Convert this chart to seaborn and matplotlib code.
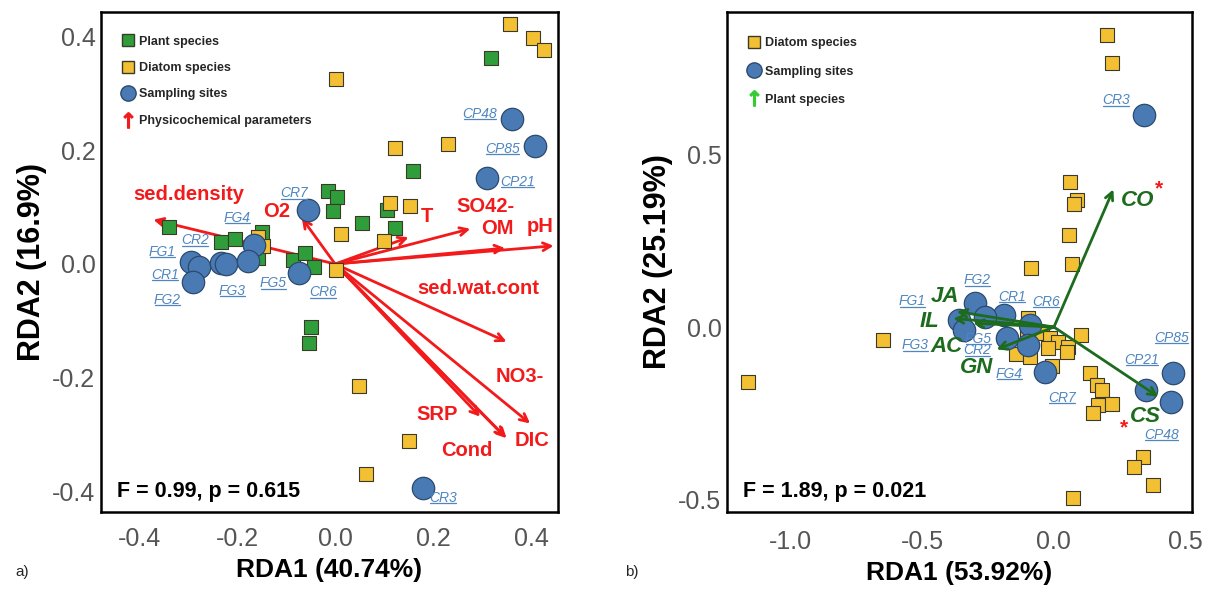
import matplotlib
matplotlib.use("Agg")
import matplotlib.pyplot as plt
import seaborn as sns
import pandas as pd
from matplotlib.lines import Line2D

# ---------------- Panel a data ----------------
a_site_names = ["CP48", "CP85", "CP21", "CR7", "CR3", "FG1", "CR1", "FG2", "CR2", "FG3", "FG4", "FG5", "CR6"]
a_site_x = [0.361, 0.409, 0.311, -0.055, 0.179, -0.294, -0.278, -0.290, -0.233, -0.222, -0.165, -0.177, -0.074]
a_site_y = [0.256, 0.208, 0.152, 0.095, -0.394, 0.004, -0.005, -0.031, 0.001, 0.000, 0.034, 0.005, -0.016]

a_diatom_x = [0.356, 0.403, 0.427, 0.001, 0.122, 0.231, 0.113, 0.153, 0.012, 0.099, -0.157, -0.147, 0.002, 0.048, 0.150, 0.064]
a_diatom_y = [0.423, 0.398, 0.377, 0.326, 0.205, 0.211, 0.108, 0.102, 0.052, 0.041, 0.048, 0.031, -0.011, -0.215, -0.312, -0.370]

a_plant_x = [0.318, 0.159, -0.015, 0.003, -0.005, 0.054, 0.106, 0.123, -0.340, -0.233, -0.204, -0.150, -0.157, -0.085, -0.061, -0.043, -0.050, -0.053]
a_plant_y = [0.363, 0.164, 0.128, 0.118, 0.093, 0.073, 0.095, 0.063, 0.065, 0.039, 0.044, 0.057, 0.011, 0.007, 0.019, -0.006, -0.111, -0.140]

a_env_names = ["sed.density", "O2", "T", "SO42-", "OM", "pH", "sed.wat.cont", "NO3-", "DIC", "SRP", "Cond"]
a_env_x = [-0.371, -0.068, 0.150, 0.276, 0.347, 0.446, 0.350, 0.398, 0.350, 0.296, 0.347]
a_env_y = [0.078, 0.081, 0.047, 0.062, 0.028, 0.032, -0.137, -0.281, -0.307, -0.269, -0.305]

# ---------------- Panel b data ----------------
b_site_names = ["CR3", "CP85", "CP21", "CP48", "CR7", "FG2", "FG1", "CR1", "CR6", "FG5", "FG3", "CR2", "FG4"]
b_site_x = [0.343, 0.451, 0.350, 0.444, -0.034, -0.300, -0.360, -0.190, -0.091, -0.262, -0.340, -0.180, -0.098]
b_site_y = [0.614, -0.132, -0.181, -0.216, -0.130, 0.069, 0.020, 0.035, 0.006, 0.030, -0.010, -0.033, -0.052]

b_diatom_x = [0.203, 0.220, 0.063, 0.086, 0.077, 0.057, 0.070, -0.089, 0.103, -0.649, -1.165,
              -0.098, -0.104, -0.047, -0.015, 0.016, 0.054, -0.022, 0.048, -0.146, -0.091, -0.009,
              0.137, 0.162, 0.181, 0.168, 0.219, 0.147, 0.337, 0.304, 0.378, 0.071]
b_diatom_y = [0.846, 0.764, 0.419, 0.368, 0.358, 0.267, 0.183, 0.170, -0.023, -0.038, -0.159,
              0.025, -0.014, -0.018, -0.033, -0.043, -0.057, -0.062, -0.072, -0.078, -0.086, -0.113,
              -0.132, -0.168, -0.183, -0.226, -0.224, -0.248, -0.378, -0.405, -0.458, -0.494]

b_plant_names = ["CO", "CS", "JA", "IL", "AC", "GN"]
b_plant_x = [0.226, 0.397, -0.370, -0.383, -0.307, -0.218]
b_plant_y = [0.399, -0.202, 0.045, 0.025, 0.011, -0.065]
b_plant_signif = ["CO", "CS"]

stats_a = "F = 0.99, p = 0.615"
stats_b = "F = 1.89, p = 0.021"
xlab_a, ylab_a = "RDA1 (40.74%)", "RDA2 (16.9%)"
xlab_b, ylab_b = "RDA1 (53.92%)", "RDA2 (25.19%)"
a_xticks = [-0.4, -0.2, 0.0, 0.2, 0.4]
a_yticks = [-0.4, -0.2, 0.0, 0.2, 0.4]
b_xticks = [-1.0, -0.5, 0.0, 0.5]
b_yticks = [-0.5, 0.0, 0.5]

# ---------------- label offsets (pixels) ----------------
a_site_off = {"CP48": (-32, 5), "CP85": (-33, -3), "CP21": (30, -4), "CR7": (-14, 17), "CR3": (20, -10),
              "FG1": (-29, 10), "CR1": (-34, -8), "FG2": (-26, -18), "CR2": (-26, 23), "FG3": (6, -27),
              "FG4": (-17, 27), "FG5": (25, -22), "CR6": (24, -19)}
a_env_off = {"sed.density": (35, 25), "O2": (-25, 7), "T": (18, 21), "SO42-": (15, 22), "OM": (-8, 20),
             "pH": (-13, 19), "sed.wat.cont": (-28, 53), "NO3-": (-10, 47), "DIC": (25, -2),
             "SRP": (-43, 2), "Cond": (-38, -13)}
b_site_off = {"CR3": (-28, 15), "CP85": (-1, 35), "CP21": (-4, 30), "CP48": (-9, -33), "CR7": (17, -26),
              "FG2": (2, 23), "FG1": (-47, 19), "CR1": (8, 18), "CR6": (16, 23), "FG5": (-7, -22),
              "FG3": (-49, -15), "CR2": (-29, -12), "FG4": (-19, -29)}
b_plant_off = {"CO": (24, -11), "CS": (-13, -20), "JA": (-12, 15), "IL": (-24, -3), "AC": (-27, -23), "GN": (-20, -18)}
b_star_off = {"CO": (46, 0), "CS": (-34, -31)}

# ---------------- styles ----------------
C_BLUE = "#4a7ab4"
C_YEL = "#f4c033"
C_GRN = "#2f9e3a"
C_RED = "#f21a1a"
C_DGRN = "#1d6b1d"
C_LBL = "#4f86c0"
EDGE = "#3a3a2a"

sns.set_theme(style="white")
plt.rcParams["font.family"] = ["Liberation Sans", "DejaVu Sans"]

fig = plt.figure(figsize=(12.05, 5.92), dpi=100)
ax_a = fig.add_axes([101 / 1205, 1 - 512 / 592, 457 / 1205, 500 / 592])
ax_b = fig.add_axes([727 / 1205, 1 - 512 / 592, 465 / 1205, 500 / 592])

underline = []


def style_axes(ax, xlim, ylim, xt, yt, xlab, ylab, xtpad, xpad):
    ax.set_xlim(*xlim)
    ax.set_ylim(*ylim)
    ax.set_xticks(xt)
    ax.set_yticks(yt)
    ax.set_xticklabels([f"{v:.1f}" for v in xt])
    ax.set_yticklabels([f"{v:.1f}" for v in yt])
    ax.tick_params(length=0, labelsize=18, labelcolor="#555555")
    ax.tick_params(axis="x", pad=xtpad)
    ax.tick_params(axis="y", pad=4)
    for s in ax.spines.values():
        s.set_visible(True)
        s.set_color("black")
        s.set_linewidth(1.8)
    ax.set_xlabel(xlab, fontsize=19, fontweight="bold", color="black", labelpad=xpad)
    ax.set_ylabel(ylab, fontsize=22, fontweight="bold", color="black", labelpad=4)
    ax.grid(False)


# ---------------- Panel a ----------------
for name, x, y in zip(a_env_names, a_env_x, a_env_y):
    ax_a.annotate("", xy=(x, y), xytext=(0, 0),
                  arrowprops=dict(arrowstyle="->", color=C_RED, lw=2.0, shrinkA=0, shrinkB=0, mutation_scale=14),
                  zorder=2)
df_ap = pd.DataFrame({"x": a_plant_x, "y": a_plant_y})
df_ad = pd.DataFrame({"x": a_diatom_x, "y": a_diatom_y})
df_as = pd.DataFrame({"x": a_site_x, "y": a_site_y})
sns.scatterplot(data=df_ap, x="x", y="y", ax=ax_a, marker="s", s=100, color=C_GRN, edgecolor=EDGE, linewidth=0.8, zorder=3)
sns.scatterplot(data=df_ad, x="x", y="y", ax=ax_a, marker="s", s=100, color=C_YEL, edgecolor=EDGE, linewidth=0.8, zorder=3)
sns.scatterplot(data=df_as, x="x", y="y", ax=ax_a, marker="o", s=260, color=C_BLUE, edgecolor="#2b4a6e", linewidth=0.9, zorder=4)

for name, x, y in zip(a_env_names, a_env_x, a_env_y):
    ax_a.annotate(name, xy=(x, y), xytext=a_env_off[name], textcoords="offset pixels",
                  ha="center", va="center", color=C_RED, fontsize=14.5, fontweight="bold", zorder=6)
for name, x, y in zip(a_site_names, a_site_x, a_site_y):
    t = ax_a.annotate(name, xy=(x, y), xytext=a_site_off[name], textcoords="offset pixels",
                      ha="center", va="center", color=C_LBL, fontsize=10, style="italic", zorder=6)
    underline.append(t)

ax_a.text(0.035, 0.04, stats_a, transform=ax_a.transAxes, fontsize=15.5, fontweight="bold", color="black",
          ha="left", va="center")

leg_a = [
    Line2D([], [], ls="none", marker="s", markersize=9, markerfacecolor=C_GRN, markeredgecolor=EDGE, label="Plant species"),
    Line2D([], [], ls="none", marker="s", markersize=9, markerfacecolor=C_YEL, markeredgecolor=EDGE, label="Diatom species"),
    Line2D([], [], ls="none", marker="o", markersize=11, markerfacecolor=C_BLUE, markeredgecolor="#2b4a6e", label="Sampling sites"),
    Line2D([], [], ls="none", marker=r"$\uparrow$", markersize=11, markerfacecolor=C_RED, markeredgecolor=C_RED,
           label="Physicochemical parameters"),
]
ax_a.legend(handles=leg_a, loc="upper left", bbox_to_anchor=(0.018, 0.975), frameon=False,
            prop=dict(size=9, weight="bold"), labelspacing=1.15, handletextpad=0.3, handlelength=1.2)

style_axes(ax_a, (-0.478, 0.455), (-0.437, 0.444), a_xticks, a_yticks, xlab_a, ylab_a, 10.5, 5.5)

# ---------------- Panel b ----------------
df_bd = pd.DataFrame({"x": b_diatom_x, "y": b_diatom_y})
df_bs = pd.DataFrame({"x": b_site_x, "y": b_site_y})
sns.scatterplot(data=df_bd, x="x", y="y", ax=ax_b, marker="s", s=100, color=C_YEL, edgecolor=EDGE, linewidth=0.8, zorder=3)
sns.scatterplot(data=df_bs, x="x", y="y", ax=ax_b, marker="o", s=260, color=C_BLUE, edgecolor="#2b4a6e", linewidth=0.9, zorder=3)
for name, x, y in zip(b_plant_names, b_plant_x, b_plant_y):
    ax_b.annotate("", xy=(x, y), xytext=(0, 0),
                  arrowprops=dict(arrowstyle="->", color=C_DGRN, lw=2.0, shrinkA=0, shrinkB=0, mutation_scale=14),
                  zorder=5)
    ax_b.annotate(name, xy=(x, y), xytext=b_plant_off[name], textcoords="offset pixels",
                  ha="center", va="center", color=C_DGRN, fontsize=16, fontweight="bold", style="italic", zorder=6)
for name in b_plant_signif:
    i = b_plant_names.index(name)
    ax_b.annotate("*", xy=(b_plant_x[i], b_plant_y[i]), xytext=b_star_off[name], textcoords="offset pixels",
                  ha="center", va="center", color=C_RED, fontsize=15, fontweight="bold", zorder=6)
for name, x, y in zip(b_site_names, b_site_x, b_site_y):
    t = ax_b.annotate(name, xy=(x, y), xytext=b_site_off[name], textcoords="offset pixels",
                      ha="center", va="center", color=C_LBL, fontsize=10, style="italic", zorder=6)
    underline.append(t)

ax_b.text(0.035, 0.04, stats_b, transform=ax_b.transAxes, fontsize=15.5, fontweight="bold", color="black",
          ha="left", va="center")

leg_b = [
    Line2D([], [], ls="none", marker="s", markersize=9, markerfacecolor=C_YEL, markeredgecolor=EDGE, label="Diatom species"),
    Line2D([], [], ls="none", marker="o", markersize=11, markerfacecolor=C_BLUE, markeredgecolor="#2b4a6e", label="Sampling sites"),
    Line2D([], [], ls="none", marker=r"$\uparrow$", markersize=11, markerfacecolor="#33cc33", markeredgecolor="#33cc33",
           label="Plant species"),
]
ax_b.legend(handles=leg_b, loc="upper left", bbox_to_anchor=(0.018, 0.972), frameon=False,
            prop=dict(size=9, weight="bold"), labelspacing=1.3, handletextpad=0.3, handlelength=1.2)

style_axes(ax_b, (-1.243, 0.525), (-0.536, 0.913), b_xticks, b_yticks, xlab_b, ylab_b, 13, 5)

fig.text(22 / 1205, 1 - 572 / 592, "a)", fontsize=11, ha="center", va="center")
fig.text(632 / 1205, 1 - 572 / 592, "b)", fontsize=11, ha="center", va="center")

# underline the site labels
fig.canvas.draw()
r = fig.canvas.get_renderer()
inv = fig.transFigure.inverted()
for t in underline:
    bb = t.get_window_extent(r)
    (x0, y0), (x1, _) = inv.transform([(bb.x0 + 1, bb.y0 + 1.5), (bb.x1 - 1, bb.y0 + 1.5)])
    fig.add_artist(Line2D([x0, x1], [y0, y0], transform=fig.transFigure, color=C_LBL, lw=0.9, zorder=7))

fig.savefig("out.png", dpi=100)
